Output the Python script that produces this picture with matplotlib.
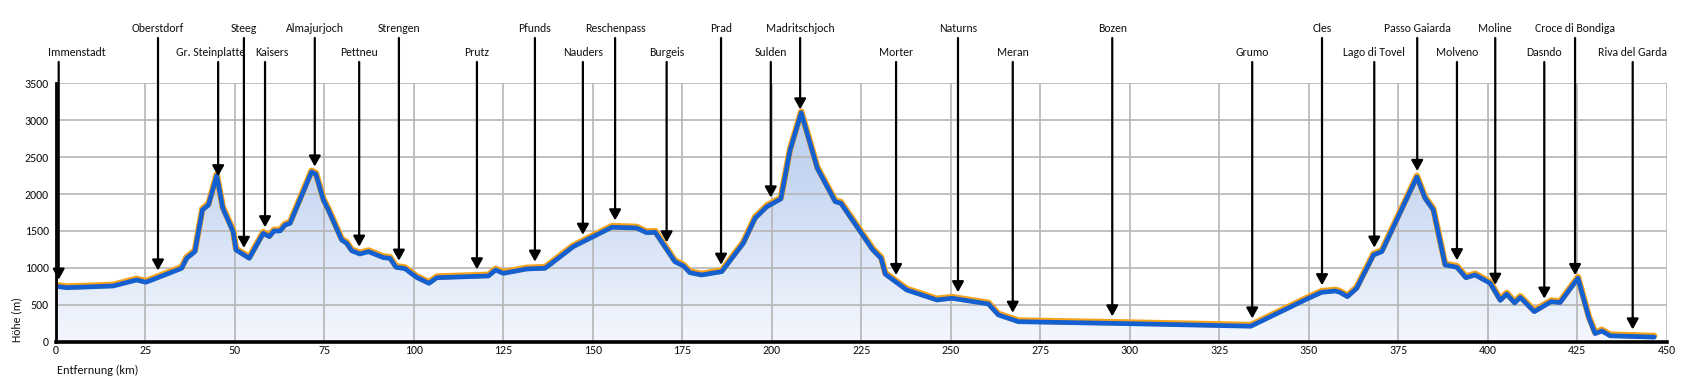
import numpy as np
import matplotlib
matplotlib.use('Agg')
import matplotlib.pyplot as plt
from matplotlib import font_manager, transforms
from matplotlib.colors import LinearSegmentedColormap

# ---------------- data ----------------
dist_km = [0, 3.0, 8, 16, 22.5, 25.1, 35.1, 36.5, 38.8, 40.9, 42.6, 44.9, 46.6, 49.5,
           50.3, 54.0, 57.9, 59.6, 60.9, 62.6, 64.0, 65.4, 71.4, 72.6, 74.7, 76.1,
           79.8, 81.2, 82.6, 84.9, 87.3, 91.5, 93.3, 95.0, 97.5, 100.8, 104.2, 106.4,
           120.8, 122.8, 125.0, 131.5, 136.6, 140.3, 144.5, 149.7, 155.3, 162.2,
           165.0, 167.4, 172.9, 175.3, 177.1, 180.4, 186.0, 192.0, 195.3, 198.6,
           202.5, 205.1, 208.2, 212.7, 217.7, 219.3, 228.2, 230.5, 231.7, 237.7,
           246.1, 250.3, 260.5, 263.3, 268.9, 300.0, 333.8, 349.9, 353.6, 357.4,
           358.7, 360.8, 363.4, 368.1, 370.4, 380.2, 382.5, 384.8, 388.1, 391.4,
           393.9, 396.5, 400.7, 403.5, 405.3, 407.5, 409.1, 413.0, 417.7, 420.2,
           425.2, 428.3, 430.0, 431.9, 434.2, 446.5]
elev_m = [750, 732, 740, 755, 836, 805, 994, 1130, 1220, 1785, 1852, 2250, 1807, 1490,
          1242, 1130, 1468, 1423, 1500, 1500, 1581, 1604, 2300, 2270, 1920, 1785,
          1378, 1333, 1233, 1188, 1220, 1138, 1130, 1008, 990, 870, 791, 867,
          890, 971, 926, 985, 994, 1130, 1287, 1414, 1550, 1540,
          1477, 1482, 1084, 1026, 935, 904, 949, 1333, 1672, 1829,
          1934, 2597, 3100, 2349, 1897, 1875, 1243, 1130, 915, 700,
          565, 588, 511, 362, 271, 244, 210, 588, 669, 687,
          669, 610, 724, 1175, 1220, 2230, 1943, 1785, 1039, 1008,
          867, 904, 791, 560, 645, 525, 600, 407, 542, 530,
          860, 317, 110, 145, 80, 62]

place_names = ['Immenstadt', 'Oberstdorf', 'Gr. Steinplatte', 'Steeg', 'Kaisers',
               'Almajurjoch', 'Pettneu', 'Strengen', 'Prutz', 'Pfunds', 'Nauders',
               'Reschenpass', 'Burgeis', 'Prad', 'Sulden', 'Madritschjoch', 'Morter',
               'Naturns', 'Meran', 'Bozen', 'Grumo', 'Cles', 'Lago di Tovel',
               'Passo Gaiarda', 'Molveno', 'Moline', 'Dasndo', 'Croce di Bondiga',
               'Riva del Garda']
place_km = [0.75, 28.5, 45.3, 52.5, 58.4, 72.3, 84.7, 95.8, 117.6, 133.8, 147.2,
            156.2, 170.6, 185.8, 199.7, 207.9, 234.7, 252.0, 267.3, 295.1, 334.2,
            353.7, 368.3, 380.3, 391.4, 402.1, 415.8, 424.4, 440.5]

x_ticks = list(range(0, 451, 25))
y_ticks = list(range(0, 3501, 500))
x_label = 'Entfernung (km)'
y_label = 'Höhe (m)'

# ---------------- fonts ----------------
avail = {f.name for f in font_manager.fontManager.ttflist}
base_family = ['Carlito', 'DejaVu Sans'] if 'Carlito' in avail else ['DejaVu Sans']
plt.rcParams['font.family'] = base_family

FW, FH = 1692, 385
fig = plt.figure(figsize=(FW / 100, FH / 100), dpi=100)
ax_left, ax_right, ax_top, ax_bottom = 56, 1666.7, 83.3, 341.7
ax = fig.add_axes([ax_left / FW, 1 - ax_bottom / FH, (ax_right - ax_left) / FW,
                   (ax_bottom - ax_top) / FH])

dist = np.array(dist_km)
elev = np.array(elev_m)

# gradient fill under profile
poly, = ax.fill(np.r_[dist, dist[-1], dist[0]], np.r_[elev, 0, 0],
                facecolor='none', edgecolor='none')
cmap = LinearSegmentedColormap.from_list(
    'g', [(0, '#f4f7fd'), (0.65, '#c5d6f2'), (1, '#bccff0')])
grad = np.linspace(0, 1, 256).reshape(-1, 1)
im = ax.imshow(grad, extent=[0, 450, 0, 3500], origin='lower', cmap=cmap,
               aspect='auto', zorder=1)
im.set_clip_path(poly)

# profile line (orange halo slightly above, blue line)
off = transforms.offset_copy(ax.transData, fig=fig, x=0, y=1.2, units='dots')
ax.plot(dist, elev, color='#f7a21b', lw=4.6, transform=off,
        solid_joinstyle='round', solid_capstyle='round', zorder=3)
ax.plot(dist, elev, color='#1560d0', lw=3.4, solid_joinstyle='round',
        solid_capstyle='round', zorder=4)

ax.set_xlim(0, 450)
ax.set_ylim(0, 3500)
ax.set_xticks(x_ticks)
ax.set_yticks(y_ticks)
ax.set_xticklabels([str(v) for v in x_ticks], fontsize=8.6, color='#111')
ax.set_yticklabels([str(v) for v in y_ticks], fontsize=8.6, color='#111')
ax.tick_params(axis='both', length=0)
ax.tick_params(axis='x', pad=2.5)
ax.tick_params(axis='y', pad=5)
ax.set_axisbelow(False)
ax.grid(True, color='#b5b5b5', lw=1.2, zorder=2)
for s in ('top', 'right'):
    ax.spines[s].set_visible(False)
ax.spines['left'].set_linewidth(2.0)
ax.spines['bottom'].set_linewidth(2.6)
ax.spines['left'].set_zorder(6)
ax.spines['bottom'].set_zorder(6)

fig.text(56.5 / FW, 1 - 370 / FH, x_label, ha='left', va='center',
         fontsize=8.8, color='#111')
fig.text(16.5 / FW, 1 - 342 / FH, y_label, ha='center', va='bottom', rotation=90,
         fontsize=8.6, color='#111')

# annotations
ax_h = ax_bottom - ax_top
row_line_top = {1: (ax_bottom - 38) / ax_h, 0: (ax_bottom - 62) / ax_h}
row_text_y = {1: (ax_bottom - 29) / ax_h, 0: (ax_bottom - 52) / ax_h}
blend = transforms.blended_transform_factory(ax.transData, ax.transAxes)
texts = []
for i, (name, km) in enumerate(zip(place_names, place_km)):
    row = i % 2
    tip = np.interp(km, dist, elev) + 95
    ax.annotate('', xy=(km, tip), xycoords='data',
                xytext=(km, row_line_top[row]), textcoords=blend,
                arrowprops=dict(arrowstyle='-|>,head_length=0.45,head_width=0.25',
                                color='black', lw=1.6, shrinkA=0, shrinkB=0,
                                mutation_scale=14),
                annotation_clip=False, zorder=7)
    t = ax.text(km, row_text_y[row], name, transform=blend, ha='center', va='center',
                fontsize=8.5, color='#111', clip_on=False)
    texts.append((row, t))

# label placement: keep inside left margin, push overlapping neighbours apart
fig.canvas.draw()
r = fig.canvas.get_renderer()


def shift_text(t, dx):
    x_disp = ax.transData.transform((t.get_position()[0], 0))[0] + dx
    t.set_x(ax.transData.inverted().transform((x_disp, 0))[0])


for row, t in texts:
    bb = t.get_window_extent(r)
    if bb.x0 < 47.7:
        shift_text(t, 47.7 - bb.x0)

min_gap = 10
for row_id in (0, 1):
    row_texts = [t for rw, t in texts if rw == row_id]
    for a, b in zip(row_texts[:-1], row_texts[1:]):
        ba = a.get_window_extent(r)
        bb = b.get_window_extent(r)
        overlap = ba.x1 + min_gap - bb.x0
        if overlap > 0:
            shift_text(a, -overlap / 2)
            shift_text(b, overlap / 2)

fig.savefig('out.png', dpi=100)
